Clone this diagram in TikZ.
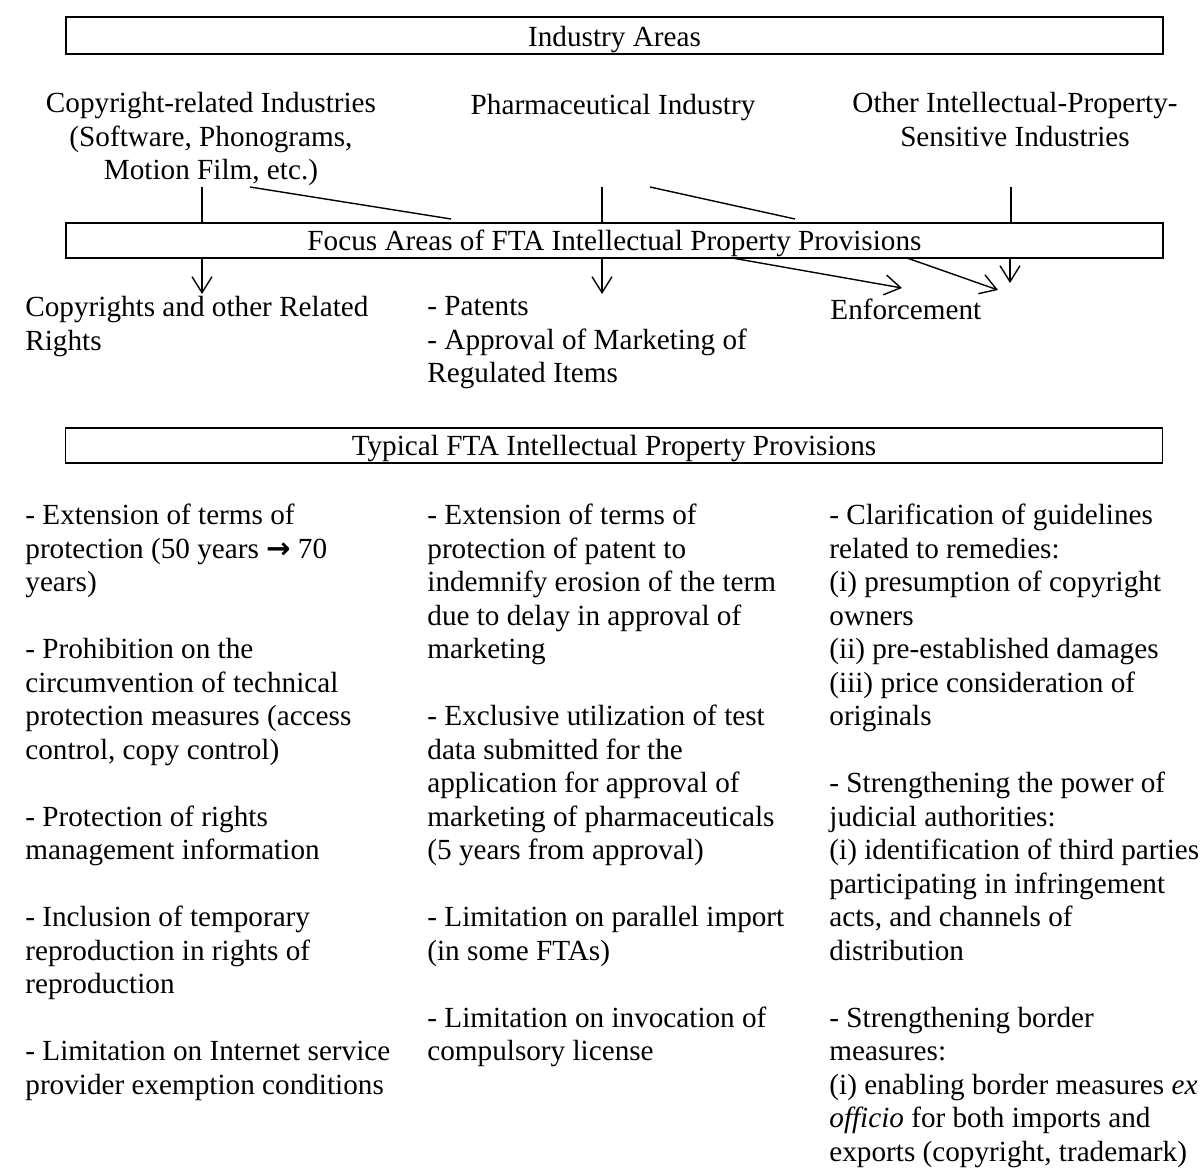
\documentclass[tikz,border=0pt]{standalone}
\usepackage{fontspec}
\setmainfont{Liberation Serif}
\newfontfamily\symfont{DejaVu Sans}
\usetikzlibrary{arrows.meta,positioning}

\begin{document}
\begin{tikzpicture}[x=0.5pt, y=-0.5pt,
  every node/.style={font=\fontsize{14.6}{16.75}\selectfont, inner sep=0pt},
  wide/.style={rectangle, draw, line width=0.9pt, minimum width=548.5pt, minimum height=17.5pt, text height=10pt, text depth=0pt},
  head/.style={align=center, anchor=north, execute at begin node=\strut},
  txt/.style={align=left, anchor=north west, execute at begin node=\strut},
  link/.style={line width=0.7pt},
  arr/.style={line width=0.7pt, -{Straight Barb[length=8pt,width=10pt]}}]
\useasboundingbox (0,0) rectangle (1203,1170);
\node[wide, minimum height=18.5pt, text height=11pt] (industry) at (614.5,35.5) {Industry Areas};
\node[head] (copyind) at (211,92) {Copyright-related Industries\\(Software, Phonograms,\\Motion Film, etc.)};
\node[head] (pharmind) at (613,91) {Pharmaceutical Industry};
\node[head] (otherind) at (1015,92) {Other Intellectual-Property-\\Sensitive Industries};
\node[wide] (focus) at (614.5,240.5) {Focus Areas of FTA Intellectual Property Provisions};
\node[txt] (copyrights) at (25,296) {Copyrights and other Related\\Rights};
\node[txt] (patents) at (427,296) {- Patents\\- Approval of Marketing of\\Regulated Items};
\node[txt] (enforce) at (830,296) {Enforcement};
\node[wide] (typical) at (614,445.5) {Typical FTA Intellectual Property Provisions};
\node[txt] (copycol) at (25,504) {- Extension of terms of\\protection (50 years {\symfont\bfseries →} 70\\years)\\[16.75pt]
- Prohibition on the\\circumvention of technical\\protection measures (access\\control, copy control)\\[16.75pt]
- Protection of rights\\management information\\[16.75pt]
- Inclusion of temporary\\reproduction in rights of\\reproduction\\[16.75pt]
- Limitation on Internet service\\provider exemption conditions};
\node[txt] (patentcol) at (427,504) {- Extension of terms of\\protection of patent to\\indemnify erosion of the term\\due to delay in approval of\\marketing\\[16.75pt]
- Exclusive utilization of test\\data submitted for the\\application for approval of\\marketing of pharmaceuticals\\(5 years from approval)\\[16.75pt]
- Limitation on parallel import\\(in some FTAs)\\[16.75pt]
- Limitation on invocation of\\compulsory license};
\node[txt] (enforcecol) at (829,504) {- Clarification of guidelines\\related to remedies:\\(i) presumption of copyright\\owners\\(ii) pre-established damages\\(iii) price consideration of\\originals\\[16.75pt]
- Strengthening the power of\\judicial authorities:\\(i) identification of third parties\\participating in infringement\\acts, and channels of\\distribution\\[16.75pt]
- Strengthening border\\measures:\\(i) enabling border measures \textit{ex}\\\textit{officio} for both imports and\\exports (copyright, trademark)};
\coordinate (cpA) at (202,187);
\coordinate (cpB) at (250,187);
\coordinate (cpBend) at (451,219);
\coordinate (phA) at (602,187);
\coordinate (phB) at (650,187);
\coordinate (phBend) at (795,219);
\coordinate (otA) at (1011,187);
\draw[link] (cpA) -- (cpA |- focus.north);
\draw[link] (cpB) -- (cpBend);
\draw[link] (phA) -- (phA |- focus.north);
\draw[link] (phB) -- (phBend);
\draw[link] (otA) -- (otA |- focus.north);
\coordinate (toCopy) at (202,294);
\coordinate (toPat) at (602,294);
\coordinate (enfA) at (732,258);
\coordinate (toEnfA) at (902,288);
\coordinate (enfB) at (907,258);
\coordinate (toEnfB) at (998,290);
\coordinate (toEnfC) at (1010,283);
\draw[arr] (toCopy |- focus.south) -- (toCopy);
\draw[arr] (toPat |- focus.south) -- (toPat);
\draw[arr] (enfA) -- (toEnfA);
\draw[arr] (enfB) -- (toEnfB);
\draw[arr] (toEnfC |- focus.south) -- (toEnfC);
\end{tikzpicture}
\end{document}
